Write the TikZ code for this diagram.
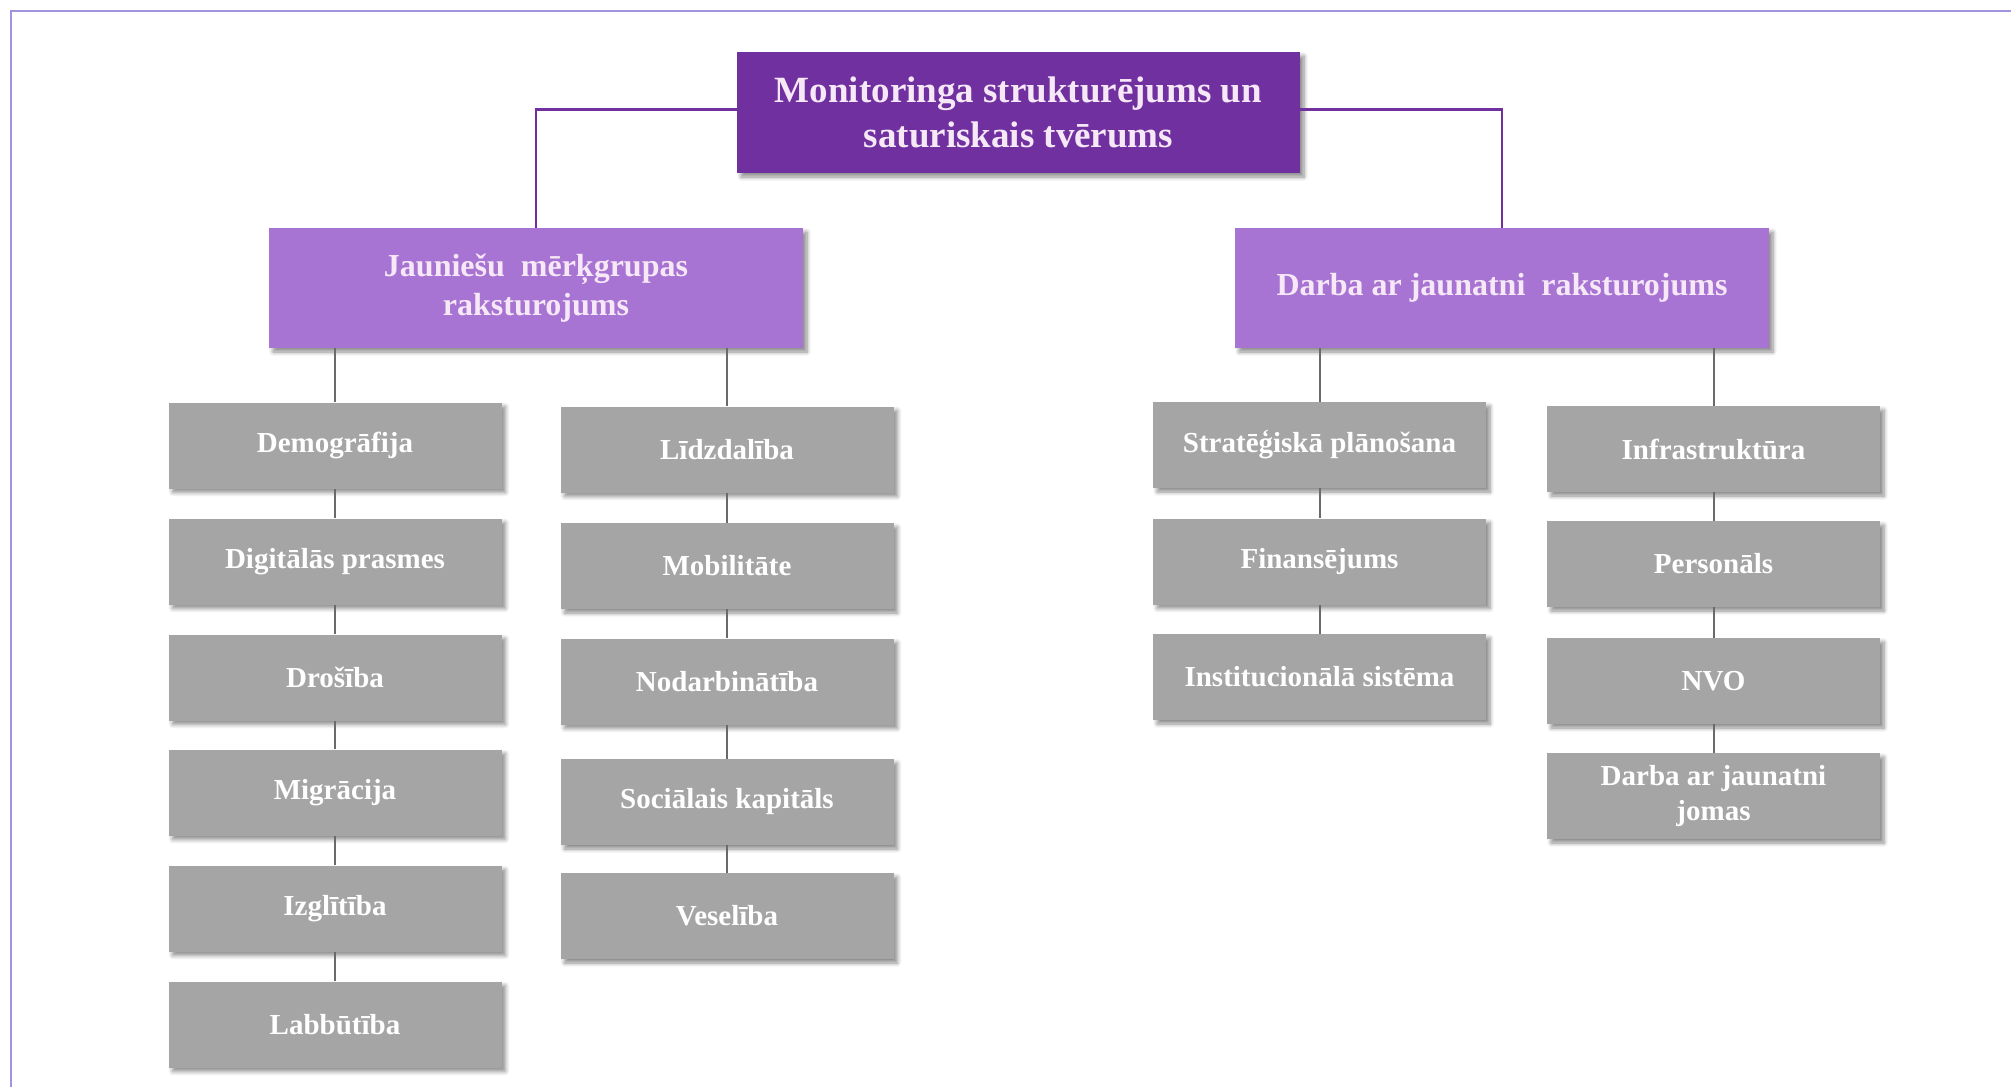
\documentclass[tikz,border=0pt]{standalone}
\usepackage{fontspec}
\setmainfont{Liberation Serif}
\usetikzlibrary{shadows.blur}
\definecolor{topc}{HTML}{7030A0}
\definecolor{midc}{HTML}{A874D4}
\definecolor{grayc}{HTML}{A5A5A5}
\definecolor{pinktext}{HTML}{F6E8F6}
\definecolor{framec}{HTML}{9E94E0}
\definecolor{glinec}{HTML}{6A6A6A}
\begin{document}
\begin{tikzpicture}[x=0.5pt,y=-0.5pt,
  base/.style={rectangle, inner sep=2pt, align=center,
    blur shadow={shadow xshift=2pt, shadow yshift=-2pt, shadow blur radius=2pt, shadow blur steps=6, shadow opacity=45}},
  topbox/.style={base, fill=topc, text=pinktext, minimum width=281.5pt, minimum height=60.5pt,
    font=\fontsize{18.5}{22.5}\selectfont\bfseries},
  midbox/.style={base, fill=midc, text=pinktext, minimum width=267pt, minimum height=60pt,
    font=\fontsize{16}{19.2}\selectfont\bfseries},
  gbox/.style={base, fill=grayc, text=white, minimum width=166.5pt, minimum height=43pt,
    font=\fontsize{14.5}{17.5}\selectfont\bfseries},
  toplink/.style={draw=topc, line width=1.2pt},
  glink/.style={draw=glinec, line width=1pt}]
\useasboundingbox (0,0) rectangle (2011,1087);
\draw[framec, line width=1.2pt] (11,1087) -- (11,11) -- (2011,11);

\node[topbox] (top) at (1018.5,112.5) {Monitoringa strukturējums un\\saturiskais tvērums};
\node[midbox] (jmg) at (536,288) {Jauniešu\hspace{0.5em}mērķgrupas\\raksturojums};
\node[midbox] (daj) at (1502,288) {Darba ar jaunatni\hspace{0.5em}raksturojums};

% left group, column 1
\node[gbox] (l1) at (335,445.5) {Demogrāfija};
\node[gbox] (l2) at (335,561.5) {Digitālās prasmes};
\node[gbox] (l3) at (335,677.5) {Drošība};
\node[gbox] (l4) at (335,792.5) {Migrācija};
\node[gbox] (l5) at (335,908.5) {Izglītība};
\node[gbox] (l6) at (335,1024.5) {Labbūtība};
% left group, column 2
\node[gbox] (m1) at (727,449.5) {Līdzdalība};
\node[gbox] (m2) at (727,566) {Mobilitāte};
\node[gbox] (m3) at (727,681.5) {Nodarbinātība};
\node[gbox] (m4) at (727,802) {Sociālais kapitāls};
\node[gbox] (m5) at (727,916) {Veselība};
% right group, column 1
\node[gbox] (r1) at (1319.5,445) {Stratēģiskā plānošana};
\node[gbox] (r2) at (1319.5,561.5) {Finansējums};
\node[gbox] (r3) at (1319.5,677) {Institucionālā sistēma};
% right group, column 2
\node[gbox] (s1) at (1713.5,449) {Infrastruktūra};
\node[gbox] (s2) at (1713.5,564) {Personāls};
\node[gbox] (s3) at (1713.5,681) {NVO};
\node[gbox] (s4) at (1713.5,796) {Darba ar jaunatni\\jomas};

% connectors
\draw[toplink] ([yshift=1.5pt]top.west) -| (jmg.north);
\draw[toplink] ([yshift=1.5pt]top.east) -| (daj.north);

\draw[glink] (l1.north |- jmg.south) -- (l1.north);
\draw[glink] (m1.north |- jmg.south) -- (m1.north);
\draw[glink] (r1.north |- daj.south) -- (r1.north);
\draw[glink] (s1.north |- daj.south) -- (s1.north);

\foreach \a/\b in {l1/l2,l2/l3,l3/l4,l4/l5,l5/l6,m1/m2,m2/m3,m3/m4,m4/m5,r1/r2,r2/r3,s1/s2,s2/s3,s3/s4}
  \draw[glink] (\a.south) -- (\b.north);
\end{tikzpicture}
\end{document}
